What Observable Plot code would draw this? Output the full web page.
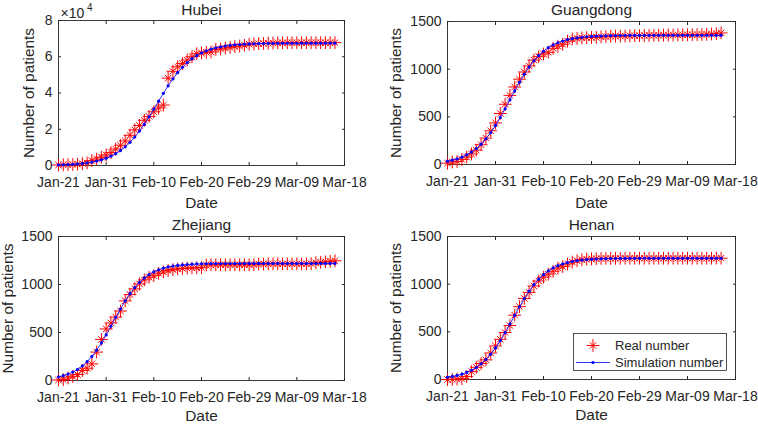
<!DOCTYPE html>
<html><head><meta charset="utf-8">
<script src="https://cdn.jsdelivr.net/npm/d3@7"></script>
<script src="https://cdn.jsdelivr.net/npm/@observablehq/plot@0.6"></script>
<style>
body{margin:0;background:#fff;}
#wrap{position:relative;width:758px;height:424px;overflow:hidden;font-family:"Liberation Sans",Arial,Helvetica,sans-serif;}
.panel{position:absolute;}
.panel svg{overflow:visible;}
</style></head><body><div id="wrap"></div>
<script>
const xTicks = [0, 10, 20, 30, 40, 50, 60];
const xTickLabels = ["Jan-21", "Jan-31", "Feb-10", "Feb-20", "Feb-29", "Mar-09", "Mar-18"];
const hubeiYTicks = [0, 20000, 40000, 60000, 80000];
const hubeiYTickLabels = ["0", "2", "4", "6", "8"];
const provYTicks = [0, 500, 1000, 1500];
const provYTickLabels = ["0", "500", "1000", "1500"];
const legendLabels = ["Real number", "Simulation number"];

const hubeiReal = [270,375,444,549,729,1052,1423,2714,3554,4586,5806,7153,9074,11177,13522,16678,19665,22112,24953,27100,29631,31728,33366,48206,51986,54406,56249,58182,59989,61682,62031,62442,62662,64084,64287,64786,65187,65596,65914,66337,66907,67103,67217,67332,67466,67592,67666,67707,67743,67760,67773,67781,67786,67790,67794,67798,67799,67800,67800];
const hubeiSim = [317,411,532,688,890,1150,1483,1912,2455,3150,4033,5140,6515,8220,10290,12760,15660,19010,22760,26830,31120,35510,39820,43950,47770,51190,54190,56750,58900,60670,62110,63270,64190,64920,65490,65940,66290,66560,66770,66940,67060,67160,67230,67290,67340,67370,67400,67420,67440,67450,67460,67470,67470,67480,67480,67490,67490,67490,67490];

const guangdongReal = [14,26,32,53,78,111,151,207,277,354,436,535,632,725,813,895,970,1034,1095,1131,1159,1177,1219,1241,1261,1294,1316,1322,1328,1331,1332,1333,1339,1342,1345,1347,1347,1347,1350,1351,1352,1353,1354,1355,1356,1357,1358,1358,1359,1360,1361,1362,1363,1364,1366,1368,1372,1380];
const guangdongSim = [35,45,59,78,101,130,167,213,268,334,408,493,584,678,772,862,946,1022,1087,1142,1188,1225,1254,1277,1295,1310,1320,1329,1335,1340,1343,1346,1348,1350,1351,1352,1353,1353,1354,1354,1354,1355,1355,1355,1355,1355,1355,1355,1355,1355,1355,1355,1355,1355,1355,1355,1355,1355];

const zhejiangReal = [5,10,27,43,62,104,128,173,296,428,537,599,661,724,829,895,954,1006,1048,1075,1092,1117,1131,1145,1155,1162,1167,1171,1172,1174,1175,1203,1205,1205,1205,1205,1205,1205,1205,1205,1205,1206,1213,1213,1215,1215,1215,1215,1215,1215,1215,1215,1215,1217,1227,1231,1236,1241,1247];
const zhejiangSim = [38,50,67,88,116,152,196,251,316,391,475,565,656,745,829,904,969,1023,1068,1104,1132,1153,1170,1183,1192,1199,1204,1208,1211,1214,1215,1216,1217,1218,1218,1219,1219,1219,1219,1220,1220,1220,1220,1220,1220,1220,1220,1220,1220,1220,1220,1220,1220,1220,1220,1220,1220,1220,1220];

const henanReal = [0,1,5,9,32,83,128,168,206,278,352,422,493,566,675,764,851,914,981,1033,1073,1105,1135,1169,1184,1212,1231,1246,1257,1262,1265,1267,1270,1271,1271,1271,1271,1272,1272,1272,1272,1272,1272,1272,1272,1272,1272,1272,1272,1272,1272,1272,1272,1272,1272,1272,1273,1273];
const henanSim = [24,32,43,56,74,97,126,164,210,265,331,407,491,581,673,763,849,927,995,1052,1100,1139,1170,1194,1213,1227,1238,1246,1253,1258,1261,1264,1266,1267,1268,1269,1270,1270,1271,1271,1271,1272,1272,1272,1272,1272,1272,1272,1272,1272,1272,1272,1272,1272,1272,1272,1272,1272];

const FONT = '"Liberation Sans", Arial, Helvetica, sans-serif';
const INK = "#262626";

const panels = [
  {name: "Hubei", real: hubeiReal, sim: hubeiSim, yMax: 80000, yTicks: hubeiYTicks, yTickLabels: hubeiYTickLabels,
   left: 0, top: 0, w: 379, mt: 20, mr: 35, mb: 47, ml: 58, titleDy: -10, yLabelOffset: 35, xLabelOffset: 42, exponent: true},
  {name: "Guangdong", real: guangdongReal, sim: guangdongSim, yMax: 1500, yTicks: provYTicks, yTickLabels: provYTickLabels,
   left: 379, top: 0, w: 379, mt: 21, mr: 23, mb: 48, ml: 68, titleDy: -11, yLabelOffset: 57.6, xLabelOffset: 43},
  {name: "Zhejiang", real: zhejiangReal, sim: zhejiangSim, yMax: 1500, yTicks: provYTicks, yTickLabels: provYTickLabels,
   left: 0, top: 212, w: 379, mt: 24, mr: 35, mb: 44, ml: 58, titleDy: -11, yLabelOffset: 56.6, xLabelOffset: 40},
  {name: "Henan", real: henanReal, sim: henanSim, yMax: 1500, yTicks: provYTicks, yTickLabels: provYTickLabels,
   left: 379, top: 212, w: 379, mt: 24, mr: 23, mb: 45, ml: 68, titleDy: -11, yLabelOffset: 57.6, xLabelOffset: 40}
];

const wrap = document.getElementById("wrap");

for (const cfg of panels) {
  const data = cfg.real.map((r, i) => ({day: i, real: r, sim: cfg.sim[i]}));
  const marks = [
    Plot.frame({stroke: INK, strokeWidth: 0.9}),
    Plot.axisX({anchor: "bottom", ticks: xTicks, tickSize: -3, tickPadding: 15, stroke: INK,
      tickFormat: d => xTickLabels[xTicks.indexOf(d)], label: null}),
    Plot.axisX({anchor: "top", ticks: xTicks, tickSize: -3, tickPadding: 0, stroke: INK,
      tickFormat: () => "", label: null}),
    Plot.axisY({anchor: "left", ticks: cfg.yTicks, tickSize: -3, tickPadding: 9, stroke: INK,
      tickFormat: d => cfg.yTickLabels[cfg.yTicks.indexOf(d)], label: null}),
    Plot.axisY({anchor: "right", ticks: cfg.yTicks, tickSize: -3, tickPadding: 0, stroke: INK,
      tickFormat: () => "", label: null}),
    Plot.dot(data, {x: "day", y: "real", symbol: "plus", r: 4.2, stroke: "#ff0000", strokeWidth: 1}),
    Plot.dot(data, {x: "day", y: "real", symbol: "times", r: 3, stroke: "#ff0000", strokeWidth: 1}),
    Plot.line(data, {x: "day", y: "sim", stroke: "#0000ff", strokeWidth: 0.8}),
    Plot.dot(data, {x: "day", y: "sim", r: 1.6, fill: "#0000ff"}),
    Plot.text([cfg.name], {frameAnchor: "top", dy: cfg.titleDy, textAnchor: "middle", lineAnchor: "middle", fontSize: 15.5, fill: INK}),
    Plot.text(["Number of patients"], {frameAnchor: "left", rotate: -90, dx: -cfg.yLabelOffset, textAnchor: "middle", lineAnchor: "top", fontSize: 15.4, fill: INK}),
    Plot.text(["Date"], {frameAnchor: "bottom", dy: cfg.xLabelOffset, textAnchor: "middle", lineAnchor: "bottom", fontSize: 15.4, fill: INK})
  ];
  if (cfg.exponent) {
    marks.push(Plot.text(["\u00d710"], {frameAnchor: "top-left", dx: 2, dy: -7, textAnchor: "start", lineAnchor: "middle", fontSize: 14, fill: INK}));
    marks.push(Plot.text(["4"], {frameAnchor: "top-left", dx: 28.5, dy: -12.5, textAnchor: "start", lineAnchor: "middle", fontSize: 10, fill: INK}));
  }
  const svg = Plot.plot({
    width: cfg.w, height: 212,
    marginTop: cfg.mt, marginRight: cfg.mr, marginBottom: cfg.mb, marginLeft: cfg.ml,
    style: {fontFamily: FONT, fontSize: "14px", color: INK, background: "transparent", overflow: "visible"},
    x: {domain: [0, 60]},
    y: {domain: [0, cfg.yMax]},
    marks
  });
  const div = document.createElement("div");
  div.className = "panel";
  div.style.left = cfg.left + "px";
  div.style.top = cfg.top + "px";
  div.appendChild(svg);
  wrap.appendChild(div);
}

// Legend (inside the Henan axes, lower right)
const leg = d3.select(wrap).append("svg")
  .attr("width", 758).attr("height", 424)
  .style("position", "absolute").style("left", "0px").style("top", "0px")
  .style("font-family", FONT);
leg.append("rect").attr("x", 573.5).attr("y", 333.5).attr("width", 153).attr("height", 37)
  .attr("fill", "#fff").attr("stroke", INK).attr("stroke-width", 0.8);
const sx = 593, sy = 345.5;
const star = leg.append("g").attr("stroke", "#ff0000").attr("stroke-width", 1);
star.append("path").attr("d", d3.symbol(d3.symbolPlus, Math.PI * 4.2 * 4.2)()).attr("transform", `translate(${sx},${sy})`).attr("fill", "none");
star.append("path").attr("d", d3.symbol(d3.symbolTimes, Math.PI * 3 * 3)()).attr("transform", `translate(${sx},${sy})`).attr("fill", "none");
leg.append("line").attr("x1", 576).attr("x2", 610).attr("y1", 362.5).attr("y2", 362.5)
  .attr("stroke", "#0000ff").attr("stroke-width", 0.8);
leg.append("circle").attr("cx", 593).attr("cy", 362.5).attr("r", 1.6).attr("fill", "#0000ff");
leg.selectAll("text.lab").data(legendLabels).join("text").attr("class", "lab")
  .attr("x", 615).attr("y", (d, i) => i === 0 ? 345.5 : 362.5)
  .attr("dy", "0.35em").attr("font-size", 13).attr("fill", INK).text(d => d);
</script></body></html>
